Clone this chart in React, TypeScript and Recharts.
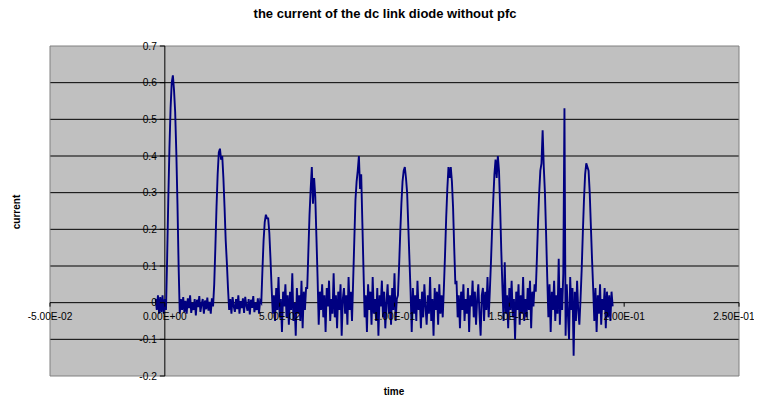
import React from "react";
import {
  LineChart,
  Line,
  XAxis,
  YAxis,
  CartesianGrid,
  ReferenceLine,
  ReferenceArea,
  ReferenceDot,
} from "recharts";

// sampling grid of the recorded waveform (seconds)
const timeStart = -0.004;
const timeStep = 0.0005;

// diode current samples
const current: number[] = [
  // before first pulse
  0.01, -0.02, 0.02, -0.03, 0.015, -0.025, 0.02, -0.03, 0.01, -0.02,
  // pulse 1
  0.12, 0.28, 0.42, 0.53, 0.6, 0.62, 0.58, 0.52, 0.41, 0.27, 0.1,
  // gap
  -0.03, 0.01, -0.02, 0.015, -0.025, 0.005, -0.03, 0.012, -0.015, 0.02,
  -0.028, 0.0, -0.02, 0.01, -0.035, 0.008, -0.012, 0.018, -0.025, -0.004,
  0.01, -0.03, 0.006, -0.018, 0.014, -0.022, 0.002, -0.03, 0.012, -0.01,
  // pulse 2
  0.05, 0.15, 0.26, 0.35, 0.41, 0.42, 0.39, 0.4, 0.34, 0.26, 0.17, 0.11, 0.04,
  // gap
  -0.02, 0.01, -0.03, 0.015, -0.01, -0.025, 0.01, -0.018, 0.02, -0.03,
  0.004, -0.015, 0.012, -0.028, 0.016, -0.008, -0.022, 0.01, -0.032, 0.008,
  -0.014, 0.018, -0.026, 0.0, -0.02, 0.012, -0.03, 0.006,
  // pulse 3
  0.0, 0.09, 0.17, 0.22, 0.24, 0.23, 0.23, 0.19, 0.12, 0.04,
  // gap
  -0.03, 0.02, -0.05, 0.04, -0.02, 0.07, -0.04, 0.01, -0.08, 0.03,
  -0.01, 0.05, -0.04, 0.02, -0.06, 0.03, -0.02, 0.08, -0.05, 0.0,
  -0.09, 0.04, -0.03, 0.02, -0.05, 0.06, -0.07, 0.03, -0.02, 0.04,
  // pulse 4
  0.04, 0.14, 0.24, 0.31, 0.37, 0.27, 0.34, 0.29, 0.18, 0.07,
  // gap
  -0.06, 0.03, -0.02, 0.05, -0.04, 0.02, -0.08, 0.04, -0.01, 0.06,
  -0.05, 0.01, -0.03, 0.08, -0.04, 0.02, -0.07, 0.03, -0.02, 0.05,
  -0.09, 0.01, 0.04, -0.03, 0.02, -0.06, 0.07, -0.02, 0.03, -0.05,
  // pulse 5
  0.06, 0.17, 0.28, 0.33, 0.36, 0.4, 0.31, 0.35, 0.22, 0.09,
  // gap
  -0.04, 0.02, -0.08, 0.05, -0.02, 0.03, -0.06, 0.07, -0.03, 0.01,
  -0.05, 0.04, -0.09, 0.02, -0.01, 0.06, -0.04, 0.03, -0.07, 0.0,
  0.05, -0.03, 0.02, -0.06, 0.04, -0.02, 0.08, -0.05, 0.01,
  // pulse 6
  0.02, 0.1, 0.19, 0.27, 0.33, 0.36, 0.37, 0.34, 0.3, 0.21, 0.12, 0.03,
  // gap
  -0.08, 0.04, -0.03, 0.02, -0.05, 0.06, -0.02, 0.01, -0.07, 0.03,
  -0.04, 0.05, -0.01, -0.06, 0.02, -0.03, 0.07, -0.05, 0.01, -0.09,
  0.04, -0.02, 0.03, -0.06, 0.05, -0.03, 0.02, -0.04,
  // pulse 7
  0.04, 0.13, 0.23, 0.31, 0.37, 0.34, 0.37, 0.33, 0.26, 0.15, 0.05,
  // gap
  0.06, -0.04, 0.02, -0.07, 0.03, -0.02, 0.05, -0.05, 0.01, -0.03,
  0.04, -0.08, 0.02, -0.01, 0.06, -0.04, 0.03, -0.06, 0.01, 0.05,
  -0.03, -0.09, 0.02, 0.04, -0.05, 0.03, -0.02, 0.07, -0.04,
  // pulse 8
  0.03, 0.11, 0.2, 0.28, 0.35, 0.39, 0.34, 0.4, 0.36, 0.26, 0.14, 0.04,
  // gap
  -0.05, 0.11, -0.03, 0.02, -0.07, 0.04, -0.02, 0.06, -0.04, 0.01,
  -0.1, 0.03, -0.02, 0.05, -0.06, 0.02, -0.03, 0.07, -0.05, 0.01,
  -0.04, 0.04, -0.02, 0.06, -0.07, 0.03, -0.01, 0.05,
  // pulse 9
  0.03, 0.12, 0.22, 0.3, 0.36, 0.38, 0.47, 0.37, 0.3, 0.19, 0.07,
  // gap with spikes
  -0.04, 0.05, -0.08, 0.03, -0.02, 0.06, -0.05, 0.02, -0.03, 0.12,
  -0.06, 0.04, -0.02, 0.08, 0.53, -0.09, 0.05, -0.03, -0.1, 0.07,
  -0.02, 0.04, -0.145, 0.03, -0.05, 0.06, -0.02, -0.06,
  // pulse 10
  0.01, 0.09, 0.19, 0.28, 0.35, 0.38, 0.37, 0.36, 0.3, 0.21, 0.12, 0.04,
  // tail
  -0.05, 0.04, -0.08, 0.02, -0.03, 0.05, -0.06, 0.01, -0.02, 0.04,
  -0.07, 0.03, -0.04, 0.02, -0.05, 0.03, -0.01,
];

const xTicks = [-0.05, 0, 0.05, 0.1, 0.15, 0.2, 0.25];
const xTickLabels = ["-5.00E-02", "0.00E+00", "5.00E-02", "1.00E-01", "1.50E-01", "2.00E-01", "2.50E-01"];
const yTicks = [-0.2, -0.1, 0, 0.1, 0.2, 0.3, 0.4, 0.5, 0.6, 0.7];
const yTickLabels = ["-0.2", "-0.1", "0", "0.1", "0.2", "0.3", "0.4", "0.5", "0.6", "0.7"];
const gridValues = [-0.1, 0.1, 0.2, 0.3, 0.4, 0.5, 0.6];

const title = "the current of the dc link diode without pfc";
const xTitle = "time";
const yTitle = "current";

const data = current.map((v, i) => ({ t: +(timeStart + i * timeStep).toFixed(5), v }));

const FONT = "'Liberation Sans', Arial, Helvetica, sans-serif";

function XTick(props: any) {
  const { viewBox, text, shift = 0 } = props;
  const x = viewBox.x + (viewBox.width || 0) / 2;
  const y = viewBox.y + (viewBox.height || 0) / 2;
  return (
    <g>
      <line x1={x} x2={x} y1={y} y2={y + 4} stroke="#000" strokeWidth={1} />
      <text x={x + shift} y={y + 17} textAnchor="middle" fontSize={10.2} fontFamily={FONT} fill="#000">
        {text}
      </text>
    </g>
  );
}

function YTick(props: any) {
  const { viewBox, text } = props;
  const x = viewBox.x + (viewBox.width || 0) / 2;
  const y = viewBox.y + (viewBox.height || 0) / 2;
  return (
    <g>
      <line x1={x - 5} x2={x} y1={y} y2={y} stroke="#000" strokeWidth={1} />
      <text x={x - 8} y={y + 3.6} textAnchor="end" fontSize={10.2} fontFamily={FONT} fill="#000">
        {text}
      </text>
    </g>
  );
}

export default function App() {
  return (
    <div style={{ position: "relative", width: 754, height: 387, fontFamily: FONT }}>
      <div
        style={{
          position: "absolute",
          left: 177,
          top: -2,
          width: 400,
          textAlign: "center",
          fontSize: 13,
          fontWeight: "bold",
          lineHeight: "16px",
          color: "#000",
        }}
      >
        {title}
      </div>
      <div
        style={{
          position: "absolute",
          left: 336,
          top: 378,
          width: 100,
          textAlign: "center",
          fontSize: 10,
          fontWeight: "bold",
          lineHeight: "12px",
          color: "#000",
        }}
      >
        {xTitle}
      </div>
      <div
        style={{
          position: "absolute",
          left: 8.5,
          top: 204,
          transform: "translate(-50%, -50%) rotate(-90deg)",
          fontSize: 10,
          fontWeight: "bold",
          lineHeight: "12px",
          whiteSpace: "nowrap",
          color: "#000",
        }}
      >
        {yTitle}
      </div>
      <LineChart
        width={754}
        height={387}
        data={data}
        margin={{ top: 38, right: 23, bottom: 19, left: 42 }}
      >
        <XAxis dataKey="t" type="number" domain={[-0.05, 0.25]} hide allowDataOverflow />
        <YAxis type="number" domain={[-0.2, 0.7]} hide allowDataOverflow />
        <CartesianGrid
          vertical={false}
          horizontalValues={gridValues}
          fill="#c0c0c0"
          fillOpacity={1}
          stroke="#000"
          strokeWidth={1}
        />
        <ReferenceArea
          x1={-0.05}
          x2={0.25}
          y1={-0.2}
          y2={0.7}
          fill="none"
          stroke="#808080"
          strokeWidth={1}
        />
        <ReferenceLine x={0} stroke="#000" strokeWidth={1} />
        <ReferenceLine y={0} stroke="#000" strokeWidth={1} />
        <Line
          type="linear"
          dataKey="v"
          stroke="#000080"
          strokeWidth={1.9}
          dot={false}
          isAnimationActive={false}
        />
        {xTicks.map((v, i) => (
          <ReferenceDot
            key={"x" + v}
            x={v}
            y={0}
            r={0}
            fill="none"
            stroke="none"
            label={<XTick text={xTickLabels[i]} shift={i === xTicks.length - 1 ? -5 : 0} />}
          />
        ))}
        {yTicks.map((v, i) => (
          <ReferenceDot
            key={"y" + v}
            x={0}
            y={v}
            r={0}
            fill="none"
            stroke="none"
            label={<YTick text={yTickLabels[i]} />}
          />
        ))}
      </LineChart>
    </div>
  );
}
